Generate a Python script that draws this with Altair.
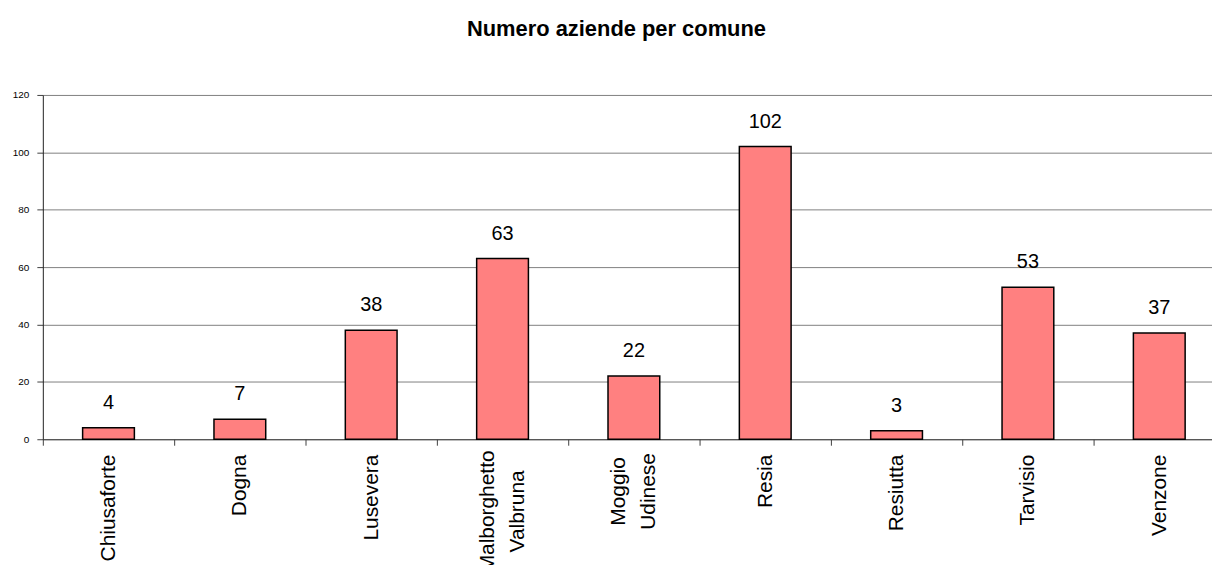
import altair as alt
import pandas as pd

comuni = ["Chiusaforte", "Dogna", "Lusevera", "Malborghetto|Valbruna", "Moggio|Udinese",
          "Resia", "Resiutta", "Tarvisio", "Venzone"]
aziende = [4, 7, 38, 63, 22, 102, 3, 53, 37]
y_ticks = [0, 20, 40, 60, 80, 100, 120]

df = pd.DataFrame({"comune": comuni, "aziende": aziende})

FONT = "Liberation Sans"
multi = "indexof(datum.label, '|') >= 0"
is_malb = "indexof(datum.label, 'Malb') >= 0"

x_enc = alt.X(
    "comune:N",
    sort=comuni,
    scale=alt.Scale(paddingInner=0, paddingOuter=0, range=[0, 1188]),
    axis=alt.Axis(
        title=None, labelAngle=-90, tickBand="extent", labelExpr="split(datum.label, '|')",
        labelFontSize=21, labelFont=FONT, labelColor="black", labelLineHeight=30,
        tickSize=6, tickColor="#404040", domainColor="#404040",
        labelOffset={"condition": {"test": multi, "value": -15}, "value": 0},
        labelAlign={"condition": {"test": multi, "value": "center"}, "value": "right"},
        labelPadding={"condition": [{"test": is_malb, "value": 66},
                                    {"test": multi, "value": 46}], "value": 9},
        grid=False,
    ),
)
y_enc = alt.Y(
    "aziende:Q",
    scale=alt.Scale(domain=[0, 120], nice=False),
    axis=alt.Axis(
        title=None, values=y_ticks, labelFontSize=10, labelFont=FONT, labelColor="black",
        tickSize=6, tickColor="#404040", domainColor="#202020", labelPadding=8,
        grid=True, gridColor="#808080", gridWidth=1,
    ),
)

bars = alt.Chart(df).mark_bar(
    width=alt.RelativeBandSize(0.394), color="#FF8080", stroke="black", strokeWidth=1.5
).encode(x=x_enc, y=y_enc)

labels = alt.Chart(df).mark_text(
    font=FONT, fontSize=20, baseline="alphabetic", dy=-19, color="black"
).encode(x=alt.X("comune:N", sort=comuni), y="aziende:Q", text="aziende:Q")

chart = (bars + labels).properties(
    width=1175,
    height=346,
    autosize=alt.AutoSizeParams(type="none"),
    padding={"left": 35, "top": 86, "right": 0, "bottom": 125},
    title=alt.TitleParams(
        "Numero aziende per comune", font=FONT, fontSize=22, fontWeight="bold",
        anchor="middle", baseline="alphabetic", offset=32, dx=-11, color="black",
    ),
).configure_view(stroke=None)

chart.save("out.html", embed_options={"renderer": "svg", "actions": False})
